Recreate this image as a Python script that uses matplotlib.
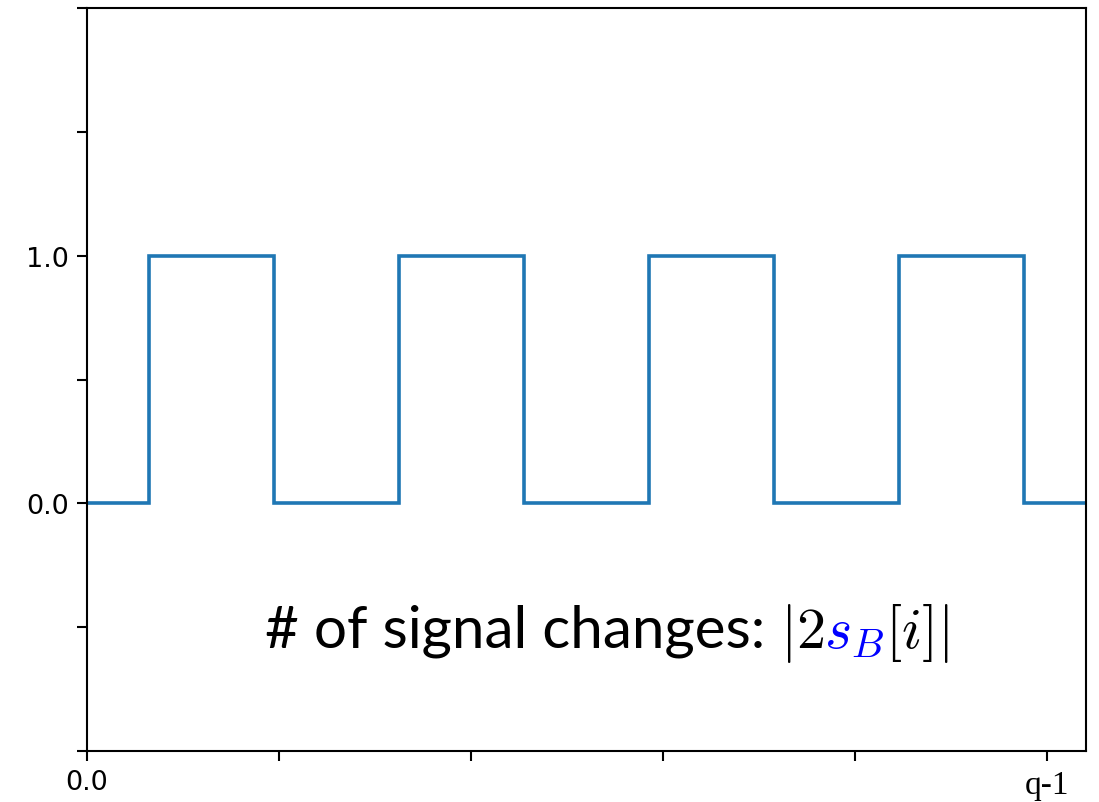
import matplotlib
matplotlib.use("Agg")
import matplotlib.pyplot as plt
from matplotlib.offsetbox import TextArea, HPacker, AnnotationBbox

plt.rcParams["mathtext.fontset"] = "cm"

# step edges (fraction of q-1) and signal level of each segment
edges = [0.0, 0.0646, 0.1948, 0.325, 0.455, 0.585, 0.716, 0.846, 0.976, 1.0406]
levels = [0, 1, 0, 1, 0, 1, 0, 1, 0]

x_ticks = [0.0, 0.2, 0.4, 0.6, 0.8, 1.0]
x_labels = ["0.0", "", "", "", "", "q-1"]
y_ticks = [-1.0, -0.5, 0.0, 0.5, 1.0, 1.5, 2.0]
y_labels = ["", "", "0.0", "", "1.0", "", ""]

fig = plt.figure(figsize=(10.99, 8.03), dpi=100)
ax = fig.add_axes([0.0792, 0.0635, 0.909, 0.9253])

ax.stairs(levels, edges, color="#1f77b4", linewidth=2.6, baseline=None)

ax.set_xlim(0, 1.0406)
ax.set_ylim(-1.0, 2.0)
ax.set_xticks(x_ticks)
ax.set_xticklabels(x_labels)
ax.set_yticks(y_ticks)
ax.set_yticklabels(y_labels, fontsize=19.5)
for lab in ax.get_xticklabels():
    lab.set_fontsize(19.5)
ax.get_xticklabels()[-1].set_family("Liberation Serif")
ax.get_xticklabels()[-1].set_fontsize(24)

ax.tick_params(length=7, width=1.5, pad=6)
for sp in ax.spines.values():
    sp.set_linewidth(1.5)

# annotation with blue s_B
fs = 42
parts = [
    TextArea("# of signal changes: ", textprops=dict(fontsize=fs, family="Lato")),
    TextArea(r"$|2$", textprops=dict(fontsize=fs)),
    TextArea(r"$s_B$", textprops=dict(fontsize=fs, color="blue")),
    TextArea(r"$[i]|$", textprops=dict(fontsize=fs)),
]
box = HPacker(children=parts, align="baseline", pad=0, sep=0)
ab = AnnotationBbox(box, (0.178, 0.16), xycoords="axes fraction",
                    box_alignment=(0, 0.5), frameon=False)
ax.add_artist(ab)

fig.savefig("out.png", dpi=100)
